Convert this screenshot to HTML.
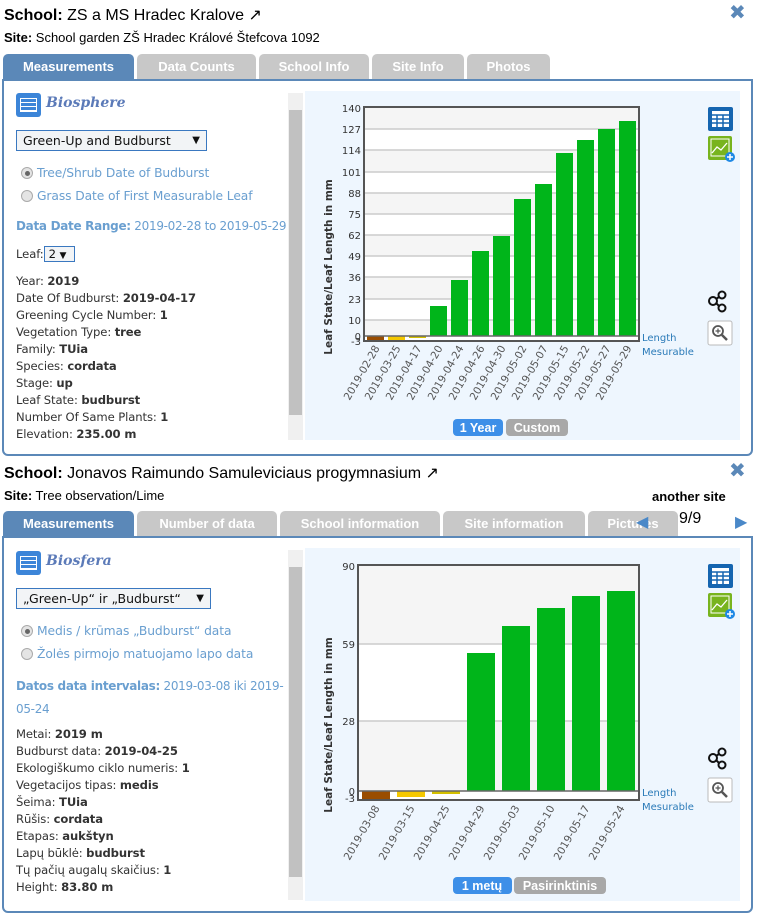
<!DOCTYPE html>
<html><head><meta charset="utf-8">
<style>
*{margin:0;padding:0;box-sizing:border-box}
body{width:765px;height:922px;background:#fff;position:relative;overflow:hidden;font-family:"DejaVu Sans",Verdana,sans-serif;color:#333}
.a{position:absolute;white-space:nowrap}
.h{font-family:"Liberation Sans",Arial,sans-serif;font-size:16px;color:#000}
.s{font-family:"Liberation Sans",Arial,sans-serif;font-size:13px;color:#000}
.tab{position:absolute;height:25px;background:#c8c8c8;color:#fff;font-family:"Liberation Sans",Arial,sans-serif;font-weight:bold;font-size:13px;text-align:center;line-height:26px;border-radius:5px 5px 0 0}
.tab.on{background:#5b88b8}
.panel{position:absolute;border:2px solid #5b88b8;border-radius:0 0 6px 6px;background:#fff}
.t12{font-size:11.6px;line-height:17px;letter-spacing:-0.1px}
.blue{color:#6a9fd0}
.sel{position:absolute;border:1px solid #3a78c0;background:#f2f4f6;font-size:12.5px;color:#111;padding-left:6px;line-height:20px}
.radio{position:absolute;width:12px;height:12px;border-radius:50%;border:1px solid #aaa;background:#e4e4e4}
.x{font-family:"DejaVu Sans",sans-serif;font-weight:bold;color:#5b88b8;font-size:20px}
.rb{font-size:12.3px;letter-spacing:-0.1px}
</style></head><body>

<!-- TOP -->
<div class="a h" style="left:4px;top:5px"><b>School:</b> ZS a MS Hradec Kralove &#x2197;</div>
<div class="a x" style="left:729px;top:0px">&#x2716;</div>
<div class="a s" style="left:4px;top:30px"><b>Site:</b> School garden ZŠ Hradec Králové Štefcova 1092</div>
<div class="tab on" style="left:3px;top:54px;width:131px">Measurements</div>
<div class="tab" style="left:137px;top:54px;width:119px">Data Counts</div>
<div class="tab" style="left:259px;top:54px;width:110px">School Info</div>
<div class="tab" style="left:372px;top:54px;width:92px">Site Info</div>
<div class="tab" style="left:467px;top:54px;width:83px">Photos</div>
<div class="panel" style="left:2px;top:79px;width:751px;height:377px"></div>
<div class="a" style="left:288px;top:93px;width:15px;height:347px;background:#f0f0f0"></div>
<div class="a" style="left:289px;top:110px;width:13px;height:305px;background:#c1c1c1"></div>
<div class="a" style="left:305px;top:91px;width:435px;height:349px;background:#eef6fe"></div>

<div class="a" style="left:16px;top:93px;width:25px;height:24px;background:#3c85d8;border-radius:3px"></div>
<div class="a" style="left:20px;top:98px;width:17px;height:14px;border:1px solid #fff;background:repeating-linear-gradient(#3c85d8 0 3px,#fff 3px 4px)"></div>
<div class="a" style="left:46px;top:95px;font-family:'DejaVu Serif',serif;font-style:italic;font-weight:bold;font-size:14px;color:#5b7ab8">Biosphere</div>
<div class="sel" style="left:16px;top:130px;width:191px;height:21px">Green-Up and Budburst<span style="position:absolute;right:6px;font-size:10px">&#9660;</span></div>
<div class="radio" style="left:21px;top:167px"><div style="margin:3px;width:5px;height:5px;border-radius:50%;background:#666"></div></div>
<div class="a blue rb" style="left:37px;top:166px">Tree/Shrub Date of Budburst</div>
<div class="radio" style="left:21px;top:190px"></div>
<div class="a blue rb" style="left:37px;top:189px">Grass Date of First Measurable Leaf</div>
<div class="a blue rb" style="left:16px;top:219px;font-size:12px;letter-spacing:-0.3px"><b>Data Date Range:</b> 2019-02-28 to 2019-05-29</div>
<div class="a t12" style="left:16px;top:246px">Leaf:<span style="display:inline-block;border:1px solid #3a78c0;background:#f2f4f6;padding:0 4px;width:31px;height:16px;line-height:14px;color:#111">2 <span style="font-size:9px">&#9660;</span></span></div>
<div class="a t12" style="left:16px;top:273px">Year: <b>2019</b><br>Date Of Budburst: <b>2019-04-17</b><br>Greening Cycle Number: <b>1</b><br>Vegetation Type: <b>tree</b><br>Family: <b>TUia</b><br>Species: <b>cordata</b><br>Stage: <b>up</b><br>Leaf State: <b>budburst</b><br>Number Of Same Plants: <b>1</b><br>Elevation: <b>235.00 m</b></div>

<!-- BOTTOM -->
<div class="a h" style="left:4px;top:463px"><b>School:</b> Jonavos Raimundo Samuleviciaus progymnasium &#x2197;</div>
<div class="a x" style="left:729px;top:458px">&#x2716;</div>
<div class="a s" style="left:4px;top:488px"><b>Site:</b> Tree observation/Lime</div>
<div class="a s" style="left:652px;top:489px;font-weight:bold">another site</div>
<div class="tab on" style="left:3px;top:511px;width:131px">Measurements</div>
<div class="tab" style="left:137px;top:511px;width:140px">Number of data</div>
<div class="tab" style="left:280px;top:511px;width:160px">School information</div>
<div class="tab" style="left:443px;top:511px;width:142px">Site information</div>
<div class="tab" style="left:588px;top:511px;width:90px">Pictures</div>
<div class="a" style="left:636px;top:512px;color:#4a88c8;font-size:16px">&#9664;</div>
<div class="a" style="left:679px;top:510px;font-family:'Liberation Sans',sans-serif;font-size:16px;color:#000">9/9</div>
<div class="a" style="left:735px;top:512px;color:#4a88c8;font-size:16px">&#9654;</div>
<div class="panel" style="left:2px;top:536px;width:751px;height:377px"></div>
<div class="a" style="left:288px;top:550px;width:15px;height:350px;background:#f0f0f0"></div>
<div class="a" style="left:289px;top:567px;width:13px;height:310px;background:#c1c1c1"></div>
<div class="a" style="left:305px;top:548px;width:435px;height:353px;background:#eef6fe"></div>

<div class="a" style="left:16px;top:551px;width:25px;height:24px;background:#3c85d8;border-radius:3px"></div>
<div class="a" style="left:20px;top:556px;width:17px;height:14px;border:1px solid #fff;background:repeating-linear-gradient(#3c85d8 0 3px,#fff 3px 4px)"></div>
<div class="a" style="left:46px;top:553px;font-family:'DejaVu Serif',serif;font-style:italic;font-weight:bold;font-size:14px;color:#5b7ab8">Biosfera</div>
<div class="sel" style="left:16px;top:588px;width:195px;height:21px">„Green-Up“ ir „Budburst“<span style="position:absolute;right:6px;font-size:10px">&#9660;</span></div>
<div class="radio" style="left:21px;top:625px"><div style="margin:3px;width:5px;height:5px;border-radius:50%;background:#666"></div></div>
<div class="a blue rb" style="left:37px;top:624px">Medis / krūmas „Budburst“ data</div>
<div class="radio" style="left:21px;top:648px"></div>
<div class="a blue rb" style="left:37px;top:647px">Žolės pirmojo matuojamo lapo data</div>
<div class="a blue" style="left:16px;top:675px;font-size:12px;letter-spacing:-0.3px;line-height:23px"><b>Datos data intervalas:</b> 2019-03-08 iki 2019-<br>05-24</div>
<div class="a t12" style="left:16px;top:726px">Metai: <b>2019 m</b><br>Budburst data: <b>2019-04-25</b><br>Ekologiškumo ciklo numeris: <b>1</b><br>Vegetacijos tipas: <b>medis</b><br>Šeima: <b>TUia</b><br>Rūšis: <b>cordata</b><br>Etapas: <b>aukštyn</b><br>Lapų būklė: <b>budburst</b><br>Tų pačių augalų skaičius: <b>1</b><br>Height: <b>83.80 m</b></div>

<svg class="a" style="left:0;top:0" width="765" height="922" font-family="DejaVu Sans, sans-serif">
<g>
<rect x="364" y="108" width="275" height="233" fill="#fff"/>
<g fill="#f5f5f5"><rect x="364" y="108" width="275" height="21"/><rect x="364" y="150" width="275" height="22"/><rect x="364" y="193" width="275" height="21"/><rect x="364" y="235" width="275" height="21"/><rect x="364" y="277" width="275" height="22"/><rect x="364" y="320" width="275" height="16"/></g>
<g stroke="#ccc" stroke-width="1.5"><line x1="364" x2="639" y1="129" y2="129"/><line x1="364" x2="639" y1="150" y2="150"/><line x1="364" x2="639" y1="172" y2="172"/><line x1="364" x2="639" y1="193" y2="193"/><line x1="364" x2="639" y1="214" y2="214"/><line x1="364" x2="639" y1="235" y2="235"/><line x1="364" x2="639" y1="256" y2="256"/><line x1="364" x2="639" y1="277" y2="277"/><line x1="364" x2="639" y1="299" y2="299"/><line x1="364" x2="639" y1="320" y2="320"/></g>
<g fill="#00b51a"><rect x="430" y="306" width="17" height="30"/><rect x="451" y="280" width="17" height="56"/><rect x="472" y="251" width="17" height="85"/><rect x="493" y="236" width="17" height="100"/><rect x="514" y="199" width="17" height="137"/><rect x="535" y="184" width="17" height="152"/><rect x="556" y="153" width="17" height="183"/><rect x="577" y="140" width="17" height="196"/><rect x="598" y="129" width="17" height="207"/><rect x="619" y="121" width="17" height="215"/></g>
<rect x="367" y="336" width="17" height="5" fill="#9a4d00"/><rect x="388" y="336" width="17" height="4" fill="#f5c800"/><rect x="409" y="336" width="17" height="2" fill="#d4c000"/>
<line x1="364" x2="639" y1="336" y2="336" stroke="#666" stroke-width="1.5"/>
<rect x="364" y="107" width="275" height="234" fill="none" stroke="#555" stroke-width="2"/>
<g font-size="10" fill="#333" text-anchor="end"><text x="361" y="112">140</text><text x="361" y="133">127</text><text x="361" y="154">114</text><text x="361" y="176">101</text><text x="361" y="197">88</text><text x="361" y="218">75</text><text x="361" y="239">62</text><text x="361" y="260">49</text><text x="361" y="281">36</text><text x="361" y="303">23</text><text x="361" y="324">10</text><text x="361" y="340">0</text><text x="361" y="345">-3</text></g>
<text transform="translate(332,267) rotate(-90)" text-anchor="middle" font-size="10.5" font-weight="bold" fill="#333">Leaf State/Leaf Length in mm</text>
<g font-size="10.5" fill="#555" text-anchor="end">
<text transform="translate(380,348) rotate(-60)">2019-02-28</text><text transform="translate(401,348) rotate(-60)">2019-03-25</text><text transform="translate(422,348) rotate(-60)">2019-04-17</text><text transform="translate(443,348) rotate(-60)">2019-04-20</text><text transform="translate(464,348) rotate(-60)">2019-04-24</text><text transform="translate(485,348) rotate(-60)">2019-04-26</text><text transform="translate(506,348) rotate(-60)">2019-04-30</text><text transform="translate(527,348) rotate(-60)">2019-05-02</text><text transform="translate(548,348) rotate(-60)">2019-05-07</text><text transform="translate(569,348) rotate(-60)">2019-05-15</text><text transform="translate(590,348) rotate(-60)">2019-05-22</text><text transform="translate(611,348) rotate(-60)">2019-05-27</text><text transform="translate(632,348) rotate(-60)">2019-05-29</text></g>
<g font-size="10" fill="#2a7ab8"><text x="642" y="341">Length</text><text x="642" y="355">Mesurable</text></g>
<rect x="453" y="419" width="50" height="17" rx="4" fill="#3d8fe8"/><text x="478" y="432" text-anchor="middle" font-family="Liberation Sans,sans-serif" font-weight="bold" font-size="12.5" fill="#fff">1 Year</text>
<rect x="506" y="419" width="62" height="17" rx="4" fill="#a8a8a8"/><text x="537" y="432" text-anchor="middle" font-family="Liberation Sans,sans-serif" font-weight="bold" font-size="12.5" fill="#fff">Custom</text>
</g>
<g>
<rect x="358" y="565" width="281" height="235" fill="#fff"/>
<g fill="#f5f5f5"><rect x="358" y="565" width="281" height="79"/><rect x="358" y="721" width="281" height="70"/></g>
<g stroke="#ccc" stroke-width="1.5"><line x1="358" x2="639" y1="644" y2="644"/><line x1="358" x2="639" y1="721" y2="721"/></g>
<g fill="#00b51a"><rect x="467" y="653" width="28" height="138"/><rect x="502" y="626" width="28" height="165"/><rect x="537" y="608" width="28" height="183"/><rect x="572" y="596" width="28" height="195"/><rect x="607" y="591" width="28" height="200"/></g>
<rect x="362" y="791" width="28" height="8" fill="#9a4d00"/><rect x="397" y="791" width="28" height="6" fill="#f5c800"/><rect x="432" y="791" width="28" height="3" fill="#d4c000"/>
<line x1="358" x2="639" y1="791" y2="791" stroke="#666" stroke-width="1.5"/>
<rect x="358" y="565" width="281" height="235" fill="none" stroke="#555" stroke-width="2"/>
<g font-size="10" fill="#333" text-anchor="end"><text x="355" y="570">90</text><text x="355" y="648">59</text><text x="355" y="725">28</text><text x="355" y="795">0</text><text x="355" y="802">-3</text></g>
<text transform="translate(332,725) rotate(-90)" text-anchor="middle" font-size="10.5" font-weight="bold" fill="#333">Leaf State/Leaf Length in mm</text>
<g font-size="10.5" fill="#555" text-anchor="end">
<text transform="translate(380,808) rotate(-60)">2019-03-08</text><text transform="translate(415,808) rotate(-60)">2019-03-15</text><text transform="translate(450,808) rotate(-60)">2019-04-25</text><text transform="translate(485,808) rotate(-60)">2019-04-29</text><text transform="translate(520,808) rotate(-60)">2019-05-03</text><text transform="translate(555,808) rotate(-60)">2019-05-10</text><text transform="translate(590,808) rotate(-60)">2019-05-17</text><text transform="translate(625,808) rotate(-60)">2019-05-24</text></g>
<g font-size="10" fill="#2a7ab8"><text x="642" y="796">Length</text><text x="642" y="810">Mesurable</text></g>
<rect x="453" y="877" width="59" height="17" rx="4" fill="#3d8fe8"/><text x="482" y="890" text-anchor="middle" font-family="Liberation Sans,sans-serif" font-weight="bold" font-size="12.5" fill="#fff">1 metų</text>
<rect x="514" y="877" width="92" height="17" rx="4" fill="#a8a8a8"/><text x="560" y="890" text-anchor="middle" font-family="Liberation Sans,sans-serif" font-weight="bold" font-size="12.5" fill="#fff">Pasirinktinis</text>
</g>
<g id="ic">
<rect x="708" y="107" width="25" height="24" rx="2" fill="#1565b0"/><rect x="712" y="111" width="17" height="16" fill="#fff"/><g stroke="#1565b0" stroke-width="1.5"><line x1="712" x2="729" y1="115" y2="115"/><line x1="712" x2="729" y1="119" y2="119"/><line x1="712" x2="729" y1="123" y2="123"/><line x1="717" x2="717" y1="115" y2="127"/><line x1="723" x2="723" y1="115" y2="127"/></g>
<rect x="708" y="136" width="24" height="24" rx="2" fill="#78b41e"/><rect x="711" y="139" width="18" height="17" fill="none" stroke="#fff"/><polyline points="712,153 717,147 721,150 727,143" fill="none" stroke="#fff" stroke-width="1.3"/><circle cx="730" cy="157" r="5" fill="#1e88e5"/><path d="M727 157h6M730 154v6" stroke="#fff" stroke-width="1.5"/>
<g fill="none" stroke="#111" stroke-width="2"><circle cx="713" cy="301" r="4"/><circle cx="722" cy="295" r="3.5"/><circle cx="722" cy="308" r="3.5"/><line x1="716" y1="299" x2="719" y2="297"/><line x1="716" y1="303" x2="719" y2="306"/></g>
<rect x="708" y="321" width="24" height="24" rx="2" fill="#fff" stroke="#bbb"/><circle cx="718" cy="331" r="5" fill="none" stroke="#555" stroke-width="1.8"/><line x1="722" y1="335" x2="727" y2="340" stroke="#555" stroke-width="2.5"/><path d="M715.5 331h5M718 328.5v5" stroke="#555" stroke-width="1.2"/>
</g>
<use href="#ic" transform="translate(0,457)"/>
</svg>
</body></html>
